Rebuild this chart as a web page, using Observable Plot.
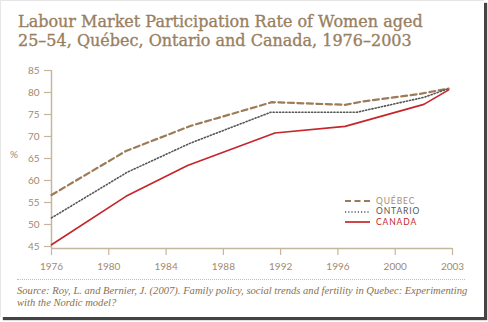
<!DOCTYPE html>
<html>
<head>
<meta charset="utf-8">
<script src="https://cdn.jsdelivr.net/npm/d3@7"></script>
<script src="https://cdn.jsdelivr.net/npm/@observablehq/plot@0.6"></script>
<style>
  html, body { margin: 0; padding: 0; background: #fff; }
  #frame { position: absolute; left: 0; top: 0; width: 483px; height: 316px; background: #fff;
           border-left: 1px solid #e6e6e6; border-top: 1px solid #e6e6e6;
           box-shadow: 3px 3px 1px #444; }
  #title { position: absolute; left: 18px; top: 12px; font-family: "DejaVu Serif", serif; font-size: 16px;
           line-height: 19px; color: #9a7f5f; white-space: nowrap; -webkit-text-stroke: 0.35px #9a7f5f; }
  #chart { position: absolute; left: 0; top: 0; }
  #pct { position: absolute; left: 10px; top: 148px; font-family: Lato, sans-serif; font-size: 10px; color: #a08a70; }
  #legend { position: absolute; left: 345px; top: 196px; font-family: Lato, sans-serif; font-size: 8.5px;
            letter-spacing: 0.9px; line-height: 10.4px; }
  #legend div { display: flex; align-items: center; height: 10.4px; }
  #legend svg { margin-right: 6px; }
  #sep { position: absolute; left: 17px; top: 279px; width: 448px; border-top: 1px dotted #cbbca8; }
  #source { position: absolute; left: 17px; top: 285px; font-family: "Liberation Serif", serif; font-style: italic;
            font-size: 10.6px; line-height: 12.2px; color: #8b6f4e; width: 465px; }
</style>
</head>
<body>
<div id="frame"></div>
<div id="chart"></div>
<div id="title">Labour Market Participation Rate of Women aged<br>25–54, Québec, Ontario and Canada, 1976–2003</div>
<div id="pct">%</div>
<div id="legend"></div>
<div id="sep"></div>
<div id="source">Source: Roy, L. and Bernier, J. (2007). Family policy, social trends and fertility in Quebec: Experimenting with the Nordic model?</div>
<script>
// Tick labels (equally spaced on the original axis)
const tickYears = [1976, 1980, 1984, 1988, 1992, 1996, 2000, 2003];
const yTicks = [45, 50, 55, 60, 65, 70, 75, 80, 85];

// Series (years read against the drawn axis)
const quebecYears  = [1976, 1981.2, 1985.7, 1991.4, 1996.5, 1997.8, 2001.3, 2002.8];
const quebecValues = [56.7, 66.7, 72.4, 77.8, 77.2, 78.0, 79.7, 80.9];
const ontarioYears  = [1976, 1981.3, 1985.7, 1991.3, 1997.3, 2001.5, 2002.8];
const ontarioValues = [51.5, 61.9, 68.5, 75.5, 75.5, 78.9, 80.9];
const canadaYears  = [1976, 1981.2, 1985.5, 1991.6, 1996.5, 2001.5, 2002.8];
const canadaValues = [45.4, 56.4, 63.4, 70.8, 72.3, 77.3, 80.6];

const series = [
  {name: "QUÉBEC", years: quebecYears, values: quebecValues, color: "#9c7b58", dash: "6,3.5", width: 2.2, text: "#a58d70"},
  {name: "ONTARIO", years: ontarioYears, values: ontarioValues, color: "#555", dash: "1.2,2", width: 1.6, text: "#555"},
  {name: "CANADA", years: canadaYears, values: canadaValues, color: "#c4262b", dash: null, width: 1.7, text: "#c4262b"}
];
const rows = series.flatMap(s => s.years.map((yr, i) => ({series: s.name, year: yr, value: s.values[i]})));

const W = 488, H = 322, mLeft = 51, mRight = 452, mTop = 70, mBottom = 246;
const axisColor = "#c6b59f", labelColor = "#a08a70";

const plot = Plot.plot({
  width: W, height: H,
  marginLeft: mLeft, marginRight: W - mRight, marginTop: mTop, marginBottom: H - mBottom,
  style: {fontFamily: "Lato, sans-serif", fontSize: "10px", background: "transparent", overflow: "visible"},
  x: {type: "linear", domain: tickYears, range: tickYears.map((_, i) => mLeft + i * (mRight - mLeft) / (tickYears.length - 1))},
  y: {domain: [45, 85], range: [mBottom, mTop]},
  marks: [
    Plot.ruleX([tickYears[0]], {stroke: axisColor, strokeWidth: 1.5, insetBottom: -2}),
    Plot.ruleY([45], {stroke: axisColor, strokeWidth: 1.5, dy: 2}),
    Plot.axisY({ticks: yTicks, tickSize: 7, tickPadding: 5, stroke: axisColor, strokeWidth: 1.2, fill: labelColor, label: null}),
    Plot.axisX({ticks: tickYears, tickFormat: d => String(d), tickSize: 7, tickPadding: 7, dy: 2, stroke: axisColor, strokeWidth: 1.2, fill: labelColor, label: null}),
    ...series.map(s => Plot.line(rows.filter(r => r.series === s.name), {
      x: "year", y: "value", stroke: s.color, strokeWidth: s.width, strokeDasharray: s.dash, strokeLinejoin: "round"
    }))
  ]
});
document.getElementById("chart").appendChild(plot);

// Legend
const legend = document.getElementById("legend");
for (const s of series) {
  const row = document.createElement("div");
  row.innerHTML = `<svg width="25" height="4"><line x1="0" x2="25" y1="2" y2="2" stroke="${s.color}" stroke-width="${s.width}" ${s.dash ? `stroke-dasharray="${s.dash}"` : ""}/></svg><span style="color:${s.text}">${s.name}</span>`;
  legend.appendChild(row);
}
</script>
</body>
</html>
